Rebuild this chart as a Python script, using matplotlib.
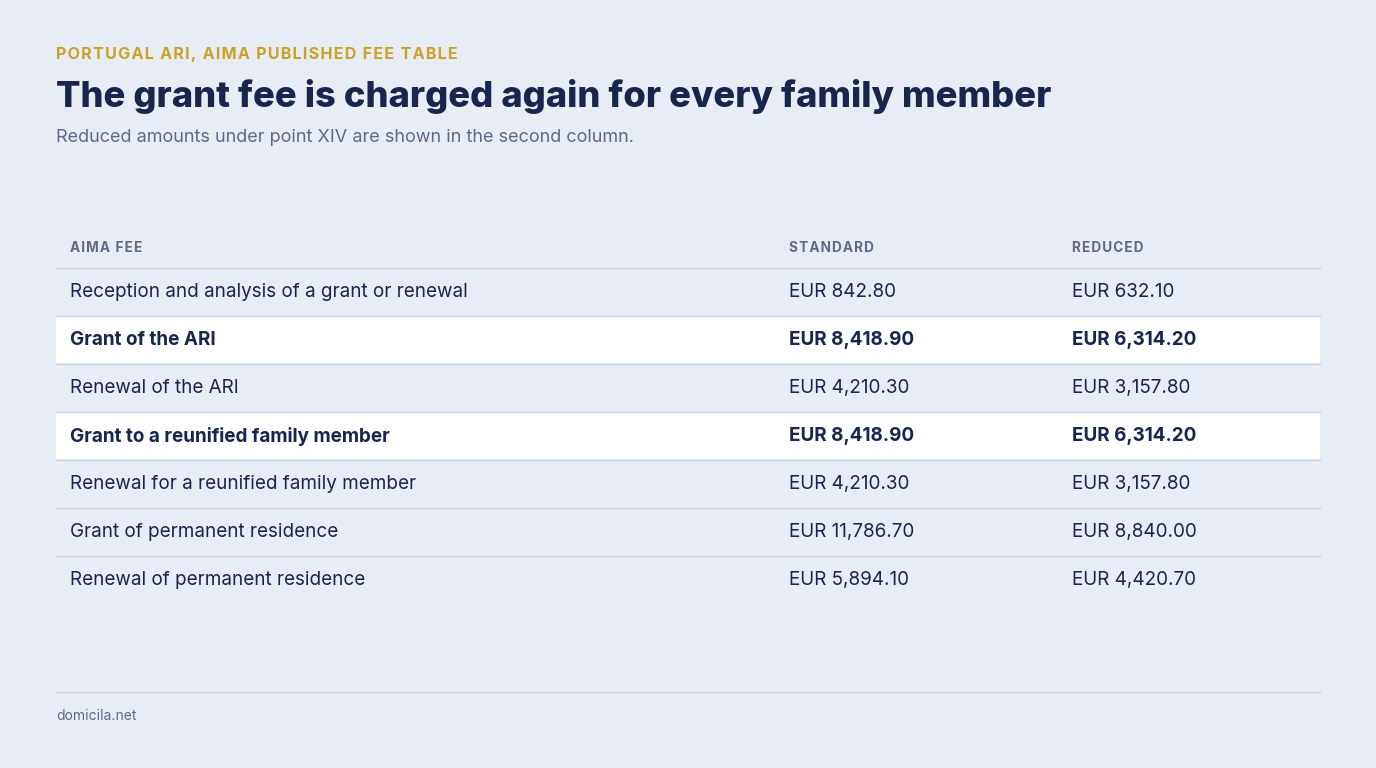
import matplotlib
matplotlib.use("Agg")
import matplotlib.pyplot as plt
from matplotlib.patches import Rectangle

fees = ["Reception and analysis of a grant or renewal", "Grant of the ARI", "Renewal of the ARI",
        "Grant to a reunified family member", "Renewal for a reunified family member",
        "Grant of permanent residence", "Renewal of permanent residence"]
standard = [842.80, 8418.90, 4210.30, 8418.90, 4210.30, 11786.70, 5894.10]
reduced = [632.10, 6314.20, 3157.80, 6314.20, 3157.80, 8840.00, 4420.70]
highlight = [False, True, False, True, False, False, False]
headers = ["AIMA FEE", "STANDARD", "REDUCED"]

BG = "#E8EDF5"; NAVY = "#18264D"; GOLD = "#C9A227"; GRAY = "#5E6A84"; LINE = "#CBD2DE"
plt.rcParams['font.family'] = ['Inter', 'DejaVu Sans']

fig = plt.figure(figsize=(13.76, 7.68), dpi=100, facecolor=BG)
ax = fig.add_axes([0, 0, 1, 1]); ax.set_xlim(0, 1376); ax.set_ylim(768, 0); ax.axis('off')

def spaced(s):
    return "\u200a".join(s)

ax.text(56, 54, spaced("PORTUGAL ARI, AIMA PUBLISHED FEE TABLE"), color=GOLD, fontsize=11.6, fontweight='bold', va='center')
ax.text(56, 96, "The grant fee is charged again for every family member", color=NAVY, fontsize=26.2, fontweight='heavy', va='center')
ax.text(56, 137, "Reduced amounts under point XIV are shown in the second column.", color=GRAY, fontsize=13, va='center')

cols = [70, 789, 1072]
for x, h in zip(cols, headers):
    ax.text(x, 248, spaced(h), color=GRAY, fontsize=9.8, fontweight='bold', va='center')
ax.plot([56, 1320], [267.5, 267.5], color=LINE, lw=1)

rh = 48; top = 268
for i, (f, s, r, hl) in enumerate(zip(fees, standard, reduced, highlight)):
    y0 = top + i * rh
    if hl:
        ax.add_patch(Rectangle((56, y0), 1264, rh - 1, color="white", lw=0))
    w = 'bold' if hl else 'normal'
    yc = y0 + rh / 2
    for x, t in zip(cols, [f, f"EUR {s:,.2f}", f"EUR {r:,.2f}"]):
        ax.text(x, yc, t, color=NAVY, fontsize=13.6, fontweight=w, va='center')
    if i < len(fees) - 1:
        ax.plot([56, 1320], [y0 + rh - 0.5, y0 + rh - 0.5], color=LINE, lw=1)

ax.plot([56, 1320], [692, 692], color=LINE, lw=1)
ax.text(56, 716, "domicila.net", color=GRAY, fontsize=10, va='center')
fig.savefig("out.png", dpi=100, facecolor=BG)
